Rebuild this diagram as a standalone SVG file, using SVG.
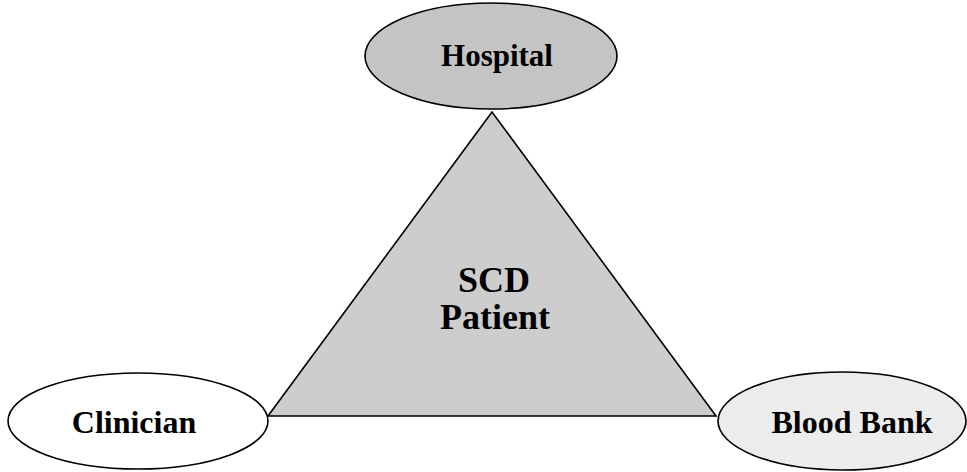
<svg xmlns="http://www.w3.org/2000/svg" width="967" height="472" viewBox="0 0 967 472">
<style>
.shape{stroke:#000;stroke-width:1.6}
.lbl{font-family:"Liberation Serif","Times New Roman",serif;font-weight:bold;fill:#000;text-anchor:middle}
</style>
<rect width="967" height="472" fill="#fff"/>
<g id="patient">
<polygon class="shape" points="492,112 268,416 716,416" fill="#cdcdcd"/>
<text class="lbl" x="494" y="292" font-size="36">SCD</text>
<text class="lbl" x="495" y="329" font-size="36">Patient</text>
</g>
<g id="hospital">
<ellipse class="shape" cx="491" cy="56" rx="126" ry="53" fill="#c4c4c4"/>
<text class="lbl" x="497" y="66" font-size="31">Hospital</text>
</g>
<g id="clinician">
<ellipse class="shape" cx="138" cy="421" rx="130" ry="48" fill="#fff"/>
<text class="lbl" x="134" y="433" font-size="32">Clinician</text>
</g>
<g id="bloodbank">
<ellipse class="shape" cx="842" cy="421" rx="124" ry="49" fill="#ececec"/>
<text class="lbl" x="852" y="433" font-size="32">Blood Bank</text>
</g>
</svg>
